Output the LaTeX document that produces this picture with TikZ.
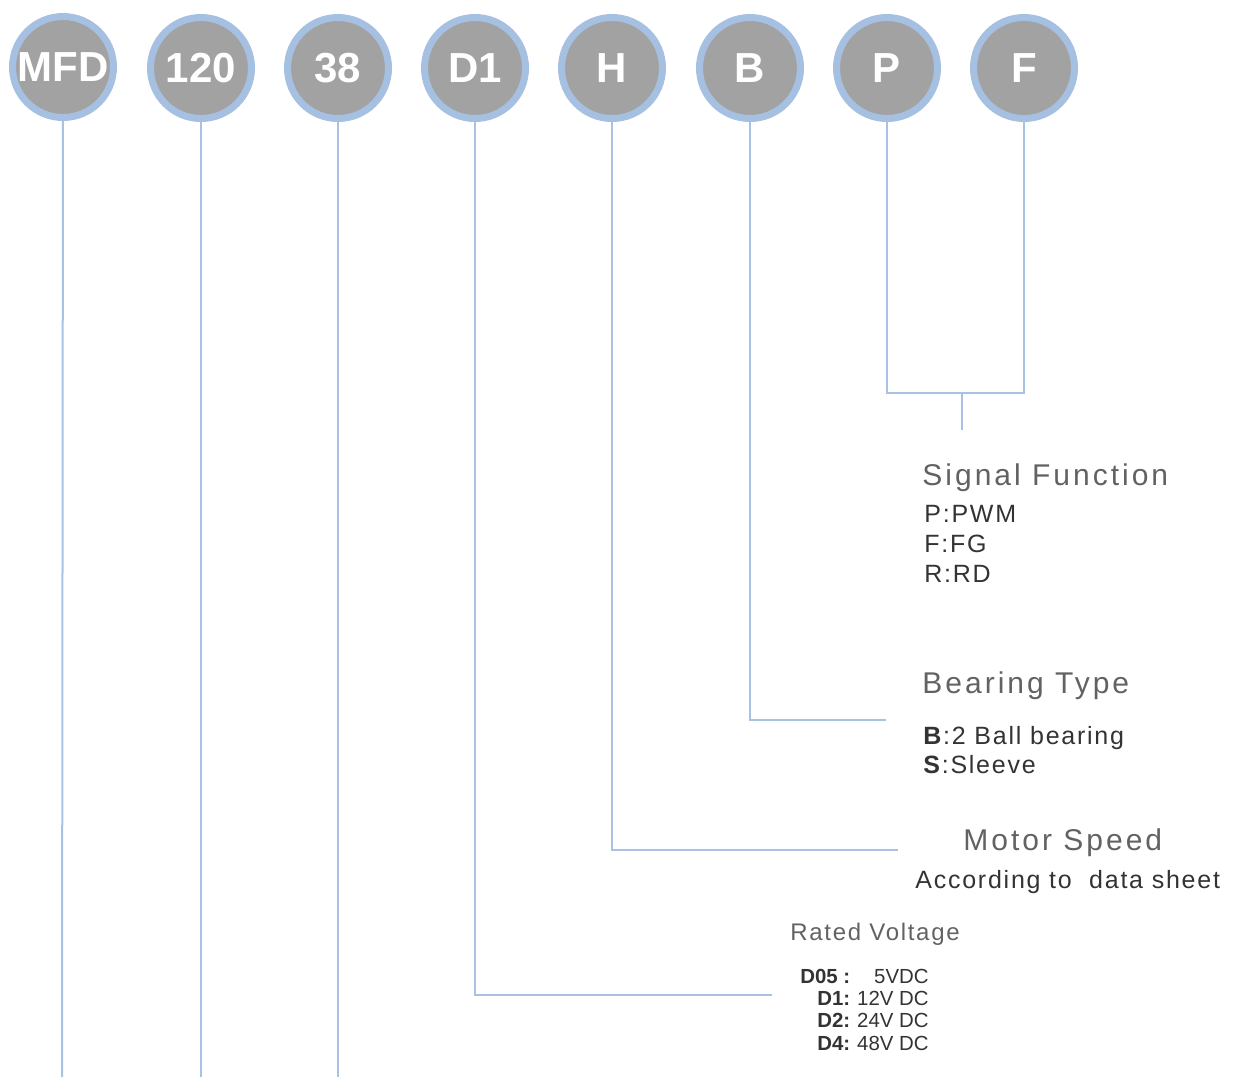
\documentclass[tikz,border=0pt]{standalone}
\usepackage{fontspec}
\setmainfont{Liberation Sans}
\newfontfamily\titlefont[LetterSpace=10]{Liberation Sans}
\newfontfamily\listfont[LetterSpace=7]{Liberation Sans}
\usetikzlibrary{positioning}
\definecolor{ringblue}{HTML}{A6C0E2}
\definecolor{discgray}{HTML}{A2A2A2}
\definecolor{leadblue}{HTML}{A9C1E2}
\definecolor{titlegray}{HTML}{626262}
\definecolor{textgray}{HTML}{333333}

\begin{document}
\begin{tikzpicture}[
    x=0.5pt, y=-0.5pt,
    code/.style={circle, fill=discgray, draw=ringblue, line width=3.5pt, minimum size=50.5pt, inner sep=0pt, text=white, font=\fontsize{21}{21}\selectfont\bfseries},
    lead/.style={draw=leadblue, line width=1pt},
    title/.style={anchor=base west, inner sep=0pt, text=titlegray, font=\titlefont\fontsize{15}{15}\selectfont},
    list/.style={anchor=north west, inner sep=0pt, align=left, text=textgray},
]
\useasboundingbox (0,0) rectangle (1233,1077);

% Code circles
\node[code] (mfd) at (63,67) {MFD};
\node[code] (dia) at (201,68) {120};
\node[code] (thk) at (338,68) {38};
\node[code] (d1) at (475,68) {D1};
\node[code] (h) at (612,68) {H};
\node[code] (b) at (750,68) {B};
\node[code] (p) at (887,68) {P};
\node[code] (f) at (1024,68) {F};

% Signal Function
\node[title] (sig) at (922,485) {Signal Function};
\node[list, font=\listfont\fontsize{12.5}{15}\selectfont] (sig-list) at (924,505) {P:PWM\\F:FG\\R:RD};

% Bearing Type
\node[title] (bear) at (922,693) {Bearing Type};
\node[list, font=\listfont\fontsize{12.5}{14.5}\selectfont] (bear-list) at (923,726) {\textbf{B}:2 Ball bearing\\\textbf{S}:Sleeve};

% Motor Speed
\node[title] (speed) at (963,850) {Motor Speed};
\node[anchor=base west, inner sep=0pt, text=textgray, font=\listfont\fontsize{12.5}{15}\selectfont] (speed-list) at (915,888) {According to\ \ data sheet};

% Rated Voltage
\node[title, font=\titlefont\addfontfeature{LetterSpace=7}\fontsize{12}{12}\selectfont] (volt) at (790,940) {Rated Voltage};
\node[anchor=base east, inner sep=0pt, text=textgray, font=\fontsize{10.2}{11.2}\selectfont] (volt-list) at (929,983) {%
  \begin{tabular}[t]{@{}r@{\hspace{3.5pt}}r@{}}
    \textbf{D05 :} & 5VDC\\
    \textbf{D1:} & 12V DC\\
    \textbf{D2:} & 24V DC\\
    \textbf{D4:} & 48V DC
  \end{tabular}};

% Lead lines
\coordinate (mfd-end) at (62,1077);
\coordinate (dia-end) at (201,1077);
\coordinate (thk-end) at (338,1077);
\coordinate (volt-in) at (772,995);
\coordinate (speed-in) at (898,850);
\coordinate (bear-in) at (886,720);
\coordinate (sig-mid) at (962,393);
\coordinate (sig-stem) at (962,430);

\draw[lead] (mfd) -- (mfd-end);
\draw[lead] (dia) -- (dia-end);
\draw[lead] (thk) -- (thk-end);
\draw[lead] (d1) |- (volt-in);
\draw[lead] (h) |- (speed-in);
\draw[lead] (b) |- (bear-in);
\draw[lead] (p) |- (sig-mid) -| (f);
\draw[lead] (sig-mid) -- (sig-stem);

\end{tikzpicture}
\end{document}
